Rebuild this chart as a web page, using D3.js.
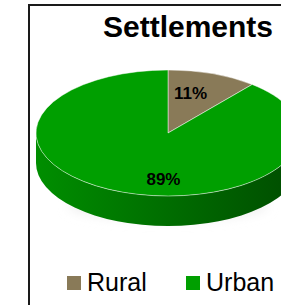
<!DOCTYPE html>
<html>
<head>
<meta charset="utf-8">
<script src="https://cdn.jsdelivr.net/npm/d3@7"></script>
<style>
  body { margin: 0; background: #fff; }
  text { font-family: "Liberation Sans", Arial, sans-serif; }
</style>
</head>
<body>
<script>
const categories = ['Rural', 'Urban'];
const values = [11, 89];
const colors = ['#897a58', '#009f00'];
const sideColors = ['#6b6043', ['#008e00', '#004c00']];

const width = 281;
const height = 305;

const svg = d3.select('body')
    .append('svg')
    .attr('width', width)
    .attr('height', height)
    .style('background-color', '#fff');

const defs = svg.append('defs');
const grad = defs.append('linearGradient')
    .attr('id', 'side')
    .attr('x1', 0).attr('x2', 1).attr('y1', 0).attr('y2', 0);
grad.append('stop').attr('offset', '0%').attr('stop-color', sideColors[1][0]);
grad.append('stop').attr('offset', '100%').attr('stop-color', sideColors[1][1]);

const blur = defs.append('filter').attr('id', 'blur')
    .attr('x', '-20%').attr('y', '-50%').attr('width', '140%').attr('height', '200%');
blur.append('feGaussianBlur').attr('stdDeviation', 6);

// chart frame (runs off the right and bottom of the picture)
svg.append('rect')
    .attr('x', 29).attr('y', 5)
    .attr('width', 320).attr('height', 330)
    .attr('fill', 'none')
    .attr('stroke', '#1a1a1a')
    .attr('stroke-width', 2);

svg.append('text')
    .attr('x', 188).attr('y', 37)
    .attr('text-anchor', 'middle')
    .style('font-size', '30px')
    .style('font-weight', 'bold')
    .text('Settlements');

const cx = 168, cy = 133, rx = 132, ry = 63, depth = 30;
const k = ry / rx;

const pie = d3.pie().sort(null).value(d => d.value);
const arcs = pie(categories.map((c, i) => ({ name: c, value: values[i], color: colors[i] })));

// faint shadow
svg.append('ellipse')
    .attr('cx', cx).attr('cy', cy + depth + 42)
    .attr('rx', rx * 0.75).attr('ry', 14)
    .attr('fill', '#ececec')
    .attr('filter', 'url(#blur)');

const pt = (a, dy) => [cx + rx * Math.sin(a), cy - ry * Math.cos(a) + dy];

// side walls, only the front half of the rim is visible
const sidePath = d => {
  const a0 = Math.max(d.startAngle, Math.PI / 2);
  const a1 = Math.min(d.endAngle, Math.PI * 3 / 2);
  if (a1 <= a0) return null;
  const p0 = pt(a0, 0), p1 = pt(a1, 0), q1 = pt(a1, depth), q0 = pt(a0, depth);
  return `M${p0}A${rx},${ry} 0 0 1 ${p1}L${q1}A${rx},${ry} 0 0 0 ${q0}Z`;
};

svg.append('g')
    .selectAll('path')
    .data(arcs.filter(d => sidePath(d)))
    .enter()
    .append('path')
    .attr('d', sidePath)
    .attr('fill', d => d.index === 1 ? 'url(#side)' : sideColors[0]);

const arc = d3.arc().innerRadius(0).outerRadius(rx);

svg.append('g')
    .attr('transform', `translate(${cx},${cy}) scale(1,${k})`)
    .selectAll('path')
    .data(arcs)
    .enter()
    .append('path')
    .attr('d', arc)
    .attr('fill', d => d.data.color)
    .attr('stroke', 'rgba(255,255,255,0.6)')
    .attr('stroke-width', 0.8)
    .attr('vector-effect', 'non-scaling-stroke');

// labels
const total = d3.sum(values);
const mid = d => (d.startAngle + d.endAngle) / 2;
svg.append('g')
    .selectAll('text')
    .data(arcs)
    .enter()
    .append('text')
    .attr('x', d => cx + 9 + 40 * Math.sin(mid(d)))
    .attr('y', d => cy - 95 * k * Math.cos(mid(d)) + 9)
    .attr('text-anchor', 'middle')
    .style('font-size', '17px')
    .style('font-weight', 'bold')
    .text(d => Math.round(d.value / total * 100) + '%');

// legend
const legendX = d3.scalePoint().domain(categories).range([67, 186]);
const legend = svg.append('g')
    .selectAll('g')
    .data(categories)
    .enter()
    .append('g')
    .attr('transform', d => `translate(${legendX(d)},276)`);

legend.append('rect')
    .attr('width', 14).attr('height', 14)
    .attr('fill', (d, i) => colors[i]);

legend.append('text')
    .attr('x', 20).attr('y', 15)
    .style('font-size', '25px')
    .text(d => d);
</script>
</body>
</html>
